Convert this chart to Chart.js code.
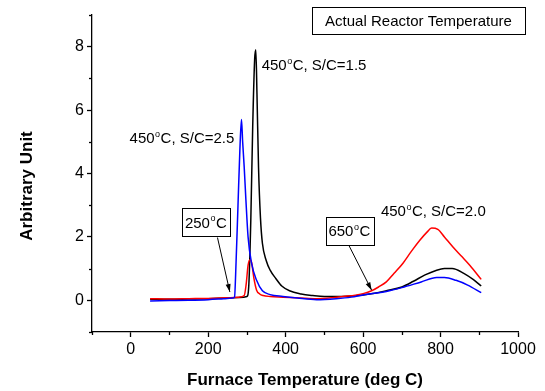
<!DOCTYPE html>
<html>
<head>
<meta charset="utf-8">
<script src="https://cdn.jsdelivr.net/npm/chart.js@4"></script>
<style>
html,body{margin:0;padding:0;background:#fff;}
canvas{display:block;}
</style>
</head>
<body>
<canvas id="c" width="545" height="391"></canvas>
<script>
// ---- Data ----
const tempSC15 = [50,100,150,200,250,280,300,305,310,315,320,323,326,330,335,340,350,360,375,390,410,440,470,500,530,560,600,630,660,700,730,760,790,810,830,860,885,905];
const valSC15  = [0.03,0.03,0.04,0.05,0.07,0.09,0.12,0.5,2.5,5.5,7.6,7.9,6.5,4.2,2.6,1.8,1.25,0.95,0.68,0.45,0.3,0.2,0.15,0.12,0.12,0.13,0.17,0.22,0.3,0.42,0.6,0.8,0.95,1.0,1.0,0.85,0.65,0.45];

const tempSC25 = [50,100,150,200,240,262,268,272,277,282,286,289,293,297,303,312,325,340,360,393,430,480,530,570,600,630,660,700,750,790,810,840,870,905];
const valSC25  = [-0.02,-0.01,0.0,0.02,0.05,0.07,0.1,1.2,3.0,4.8,5.7,5.0,4.2,3.26,2.0,1.17,0.63,0.3,0.18,0.12,0.07,0.02,0.05,0.1,0.17,0.22,0.28,0.4,0.58,0.72,0.72,0.63,0.48,0.24];

const tempSC20 = [50,100,150,200,250,280,293,298,303,308,312,318,325,333,342,360,393,440,480,520,548,580,600,622,640,660,680,703,725,747,765,777,793,810,832,855,876,905];
const valSC20  = [0.05,0.04,0.05,0.06,0.08,0.1,0.15,0.5,1.1,1.28,1.2,0.7,0.32,0.2,0.15,0.12,0.1,0.07,0.05,0.08,0.12,0.16,0.21,0.3,0.42,0.58,0.85,1.17,1.55,1.9,2.15,2.28,2.24,2.0,1.68,1.38,1.1,0.66];

const xTickValues = [0,200,400,600,800,1000];
const xMinorValues = [-100,100,300,500,700,900];
const yTickValues = [0,2,4,6,8];
const yMinorValues = [-1,1,3,5,7,9];

const xTitle = 'Furnace Temperature (deg C)';
const yTitle = 'Arbitrary Unit';
const boxTitle = 'Actual Reactor Temperature';

const toPts = (xs, ys) => xs.map((x, i) => ({x: x, y: ys[i]}));

const FONT = '"Liberation Sans", Arial, sans-serif';

function drawSupText(ctx, x, y, pre, sup, post, size, measureOnly) {
  ctx.font = size + 'px ' + FONT;
  const w1 = ctx.measureText(pre).width;
  const supSize = Math.round(size * 0.62);
  ctx.font = supSize + 'px ' + FONT;
  const w2 = ctx.measureText(sup).width;
  ctx.font = size + 'px ' + FONT;
  const w3 = ctx.measureText(post).width;
  const total = w1 + 0.5 + w2 + 0.5 + w3;
  if (measureOnly) return total;
  ctx.textAlign = 'left';
  ctx.textBaseline = 'alphabetic';
  ctx.fillText(pre, x, y);
  ctx.font = supSize + 'px ' + FONT;
  ctx.fillText(sup, x + w1 + 0.5, y - size * 0.42);
  ctx.font = size + 'px ' + FONT;
  ctx.fillText(post, x + w1 + w2 + 1, y);
  return total;
}

function arrow(ctx, x1, y1, x2, y2) {
  ctx.beginPath();
  ctx.moveTo(x1, y1);
  ctx.lineTo(x2, y2);
  ctx.lineWidth = 1;
  ctx.strokeStyle = '#000';
  ctx.stroke();
  const a = Math.atan2(y2 - y1, x2 - x1);
  const L = 8, W = 2.5;
  ctx.beginPath();
  ctx.moveTo(x2, y2);
  ctx.lineTo(x2 - L * Math.cos(a) + W * Math.sin(a), y2 - L * Math.sin(a) - W * Math.cos(a));
  ctx.lineTo(x2 - L * Math.cos(a) - W * Math.sin(a), y2 - L * Math.sin(a) + W * Math.cos(a));
  ctx.closePath();
  ctx.fillStyle = '#000';
  ctx.fill();
}

const decor = {
  id: 'decor',
  afterDraw(chart) {
    const ctx = chart.ctx;
    const xs = chart.scales.x, ys = chart.scales.y;
    const ca = chart.chartArea;
    ctx.save();
    ctx.strokeStyle = '#000';
    ctx.lineWidth = 1.3;
    // minor ticks
    xMinorValues.forEach(v => {
      const px = Math.round(xs.getPixelForValue(v)) + 0.5;
      ctx.beginPath(); ctx.moveTo(px, ca.bottom); ctx.lineTo(px, ca.bottom + 3); ctx.stroke();
    });
    yMinorValues.forEach(v => {
      const py = Math.round(ys.getPixelForValue(v)) + 0.5;
      ctx.beginPath(); ctx.moveTo(ca.left, py); ctx.lineTo(ca.left - 3, py); ctx.stroke();
    });
    // axis titles
    ctx.fillStyle = '#000';
    ctx.font = 'bold 17px ' + FONT;
    ctx.textAlign = 'center';
    ctx.textBaseline = 'middle';
    ctx.fillText(xTitle, (ca.left + ca.right) / 2, 380);
    ctx.save();
    ctx.translate(27, 186);
    ctx.rotate(-Math.PI / 2);
    ctx.fillText(yTitle, 0, 0);
    ctx.restore();

    // series labels
    ctx.fillStyle = '#000';
    drawSupText(ctx, xs.getPixelForValue(338), ys.getPixelForValue(7.27), '450', 'o', 'C, S/C=1.5', 15);
    drawSupText(ctx, xs.getPixelForValue(-3), ys.getPixelForValue(4.96), '450', 'o', 'C, S/C=2.5', 15);
    drawSupText(ctx, xs.getPixelForValue(646), ys.getPixelForValue(2.65), '450', 'o', 'C, S/C=2.0', 15);

    // boxed labels
    function box(x0, y0, x1, y1, drawFn, measureFn) {
      const L = xs.getPixelForValue(x0), R = xs.getPixelForValue(x1);
      const T = ys.getPixelForValue(y0), B = ys.getPixelForValue(y1);
      ctx.fillStyle = '#fff';
      ctx.fillRect(L, T, R - L, B - T);
      ctx.lineWidth = 1;
      ctx.strokeStyle = '#000';
      ctx.strokeRect(Math.round(L) + 0.5, Math.round(T) + 0.5, Math.round(R - L), Math.round(B - T));
      ctx.fillStyle = '#000';
      const w = measureFn();
      drawFn((L + R) / 2 - w / 2, (T + B) / 2 + 5.5);
    }
    box(132, 2.91, 256, 2.02,
      (x, y) => drawSupText(ctx, x, y, '250', 'o', 'C', 15),
      () => drawSupText(ctx, 0, 0, '250', 'o', 'C', 15, true));
    arrow(ctx, xs.getPixelForValue(224), ys.getPixelForValue(1.98), xs.getPixelForValue(256), ys.getPixelForValue(0.26));
    box(503, 2.63, 626, 1.76,
      (x, y) => drawSupText(ctx, x, y, '650', 'o', 'C', 15),
      () => drawSupText(ctx, 0, 0, '650', 'o', 'C', 15, true));
    arrow(ctx, xs.getPixelForValue(563), ys.getPixelForValue(1.74), xs.getPixelForValue(622), ys.getPixelForValue(0.32));
    box(468, 9.26, 1018, 8.4,
      (x, y) => { ctx.font = '15px ' + FONT; ctx.textAlign = 'left'; ctx.textBaseline = 'alphabetic'; ctx.fillText(boxTitle, x, y); },
      () => { ctx.font = '15px ' + FONT; return ctx.measureText(boxTitle).width; });
    ctx.restore();
  }
};

const lineDs = (label, xsArr, ysArr, color) => ({
  label: label,
  data: toPts(xsArr, ysArr),
  showLine: true,
  borderColor: color,
  backgroundColor: color,
  borderWidth: 1.5,
  pointRadius: 0,
  cubicInterpolationMode: 'monotone',
  fill: false
});

new Chart(document.getElementById('c').getContext('2d'), {
  type: 'scatter',
  data: {
    datasets: [
      lineDs('450°C, S/C=2.5', tempSC25, valSC25, '#0000ff'),
      lineDs('450°C, S/C=2.0', tempSC20, valSC20, '#ff0000'),
      lineDs('450°C, S/C=1.5', tempSC15, valSC15, '#000000')
    ]
  },
  options: {
    responsive: false,
    animation: false,
    devicePixelRatio: 1,
    layout: { padding: { top: 15, right: 27, left: 0, bottom: 0 } },
    plugins: { legend: { display: false }, tooltip: { enabled: false } },
    scales: {
      x: {
        type: 'linear', min: -100, max: 1000,
        afterBuildTicks: s => { s.ticks = xTickValues.map(v => ({ value: v })); },
        afterFit: s => { s.height = 59; },
        grid: { drawOnChartArea: false, drawTicks: true, tickLength: 5, tickColor: '#000', tickWidth: 1.3 },
        border: { display: true, color: '#000', width: 1.3 },
        ticks: { color: '#000', font: { family: FONT, size: 16 }, padding: 3, maxRotation: 0, autoSkip: false, callback: v => String(v) }
      },
      y: {
        type: 'linear', min: -1, max: 9,
        afterBuildTicks: s => { s.ticks = yTickValues.map(v => ({ value: v })); },
        afterFit: s => { s.width = 92; },
        grid: { drawOnChartArea: false, drawTicks: true, tickLength: 5, tickColor: '#000', tickWidth: 1.3 },
        border: { display: true, color: '#000', width: 1.3 },
        ticks: { color: '#000', font: { family: FONT, size: 16 }, padding: 3, autoSkip: false, callback: v => String(v) }
      }
    }
  },
  plugins: [decor]
});
</script>
</body>
</html>
